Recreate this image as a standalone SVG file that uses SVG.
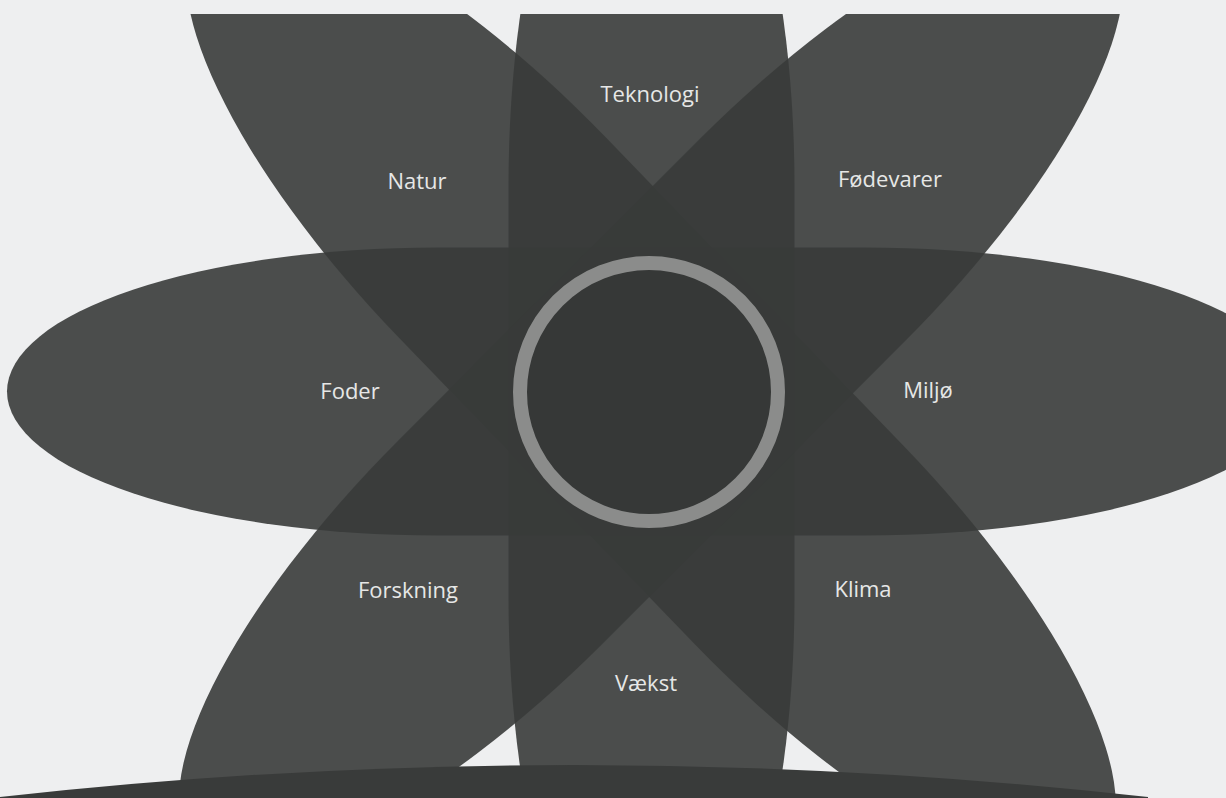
<svg xmlns="http://www.w3.org/2000/svg" width="1226" height="798" viewBox="0 0 1226 798">
  <defs>
    <style>
      .petal { fill: #393b3a; fill-opacity: 0.9; }
      .lbl { font-family: "Open Sans", "Liberation Sans", sans-serif; font-size: 22px; fill: #e6e7e6; text-anchor: middle; }
    </style>
    <rect id="petalShape" x="-644" y="-144" width="1288" height="288" rx="430" ry="144"/>
    <rect id="petalShapeV" x="-636" y="-143" width="1272" height="286" rx="430" ry="143"/>
    <clipPath id="page">
      <rect x="0" y="14" width="1226" height="784"/>
    </clipPath>
  </defs>

  <rect x="0" y="0" width="1226" height="798" fill="#eeeff0"/>

  <g id="petals" clip-path="url(#page)">
    <use id="petal-foder-miljo" href="#petalShape" class="petal" transform="translate(651,391.5)"/>
    <use id="petal-teknologi-vaekst" href="#petalShapeV" class="petal" transform="translate(651.5,391.5) rotate(90)"/>
    <use id="petal-natur-klima" href="#petalShape" class="petal" transform="translate(651,391.5) rotate(46)"/>
    <use id="petal-fodevarer-forskning" href="#petalShape" class="petal" transform="translate(651,391.5) rotate(-45)"/>
  </g>

  <g id="center">
    <circle cx="649" cy="392" r="129" fill="#363837" stroke="#8b8c8b" stroke-width="14"/>
  </g>

  <g id="ground">
    <path d="M0,797 Q574,733 1148,797 L1148,798 L0,798 Z" fill="#393b3a"/>
  </g>

  <g id="node-teknologi"><text class="lbl" x="650" y="102">Teknologi</text></g>
  <g id="node-natur"><text class="lbl" x="417" y="189">Natur</text></g>
  <g id="node-fodevarer"><text class="lbl" x="890" y="187">Fødevarer</text></g>
  <g id="node-foder"><text class="lbl" x="350" y="399">Foder</text></g>
  <g id="node-miljo"><text class="lbl" x="928" y="398">Miljø</text></g>
  <g id="node-forskning"><text class="lbl" x="408" y="598">Forskning</text></g>
  <g id="node-klima"><text class="lbl" x="863" y="597">Klima</text></g>
  <g id="node-vaekst"><text class="lbl" x="646" y="691">Vækst</text></g>
  <g id="connectors"></g>
</svg>
